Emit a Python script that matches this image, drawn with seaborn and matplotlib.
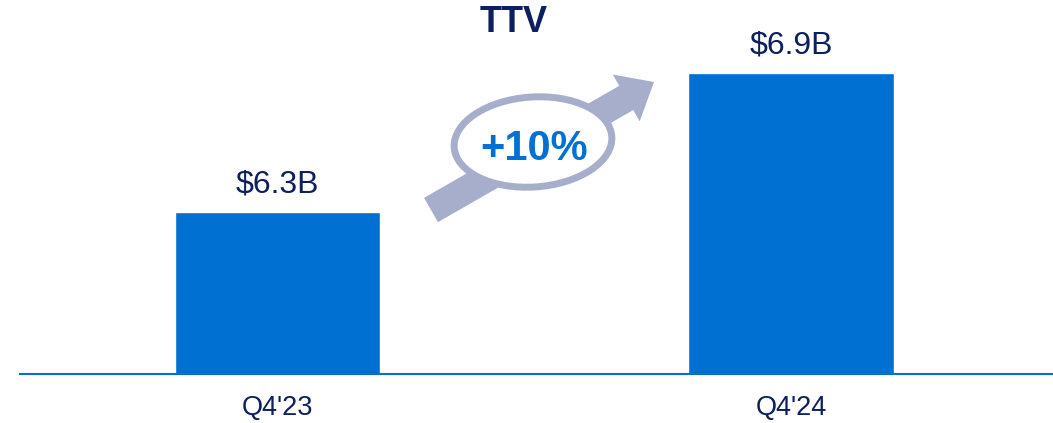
import numpy as np
import pandas as pd
import matplotlib
matplotlib.use("Agg")
import matplotlib.pyplot as plt
from matplotlib import patches, transforms
import seaborn as sns

# Data
quarters = ["Q4'23", "Q4'24"]
ttv_billions = [6.3, 6.9]
growth_label = "+10%"
chart_title = "TTV"

BAR_BLUE = "#0070d2"
NAVY = "#0c1f5e"
ARROW_GREY = "#a7aecb"

sns.set_style("white")
plt.rcParams["font.family"] = ["Liberation Sans", "DejaVu Sans"]

W, H = 1053, 423
fig = plt.figure(figsize=(W / 100, H / 100), dpi=100)
ax = fig.add_axes([20 / W, (H - 374) / H, (W - 20) / W, (374 - 20) / H])

df = pd.DataFrame({"quarter": quarters, "ttv": ttv_billions})
sns.barplot(data=df, x="quarter", y="ttv", color=BAR_BLUE, saturation=1,
            width=0.4, ax=ax)

ax.set_ylim(5.6, 7.128)
ax.set_xlim(-0.501, 1.51)
ax.set_xlabel("")
ax.set_ylabel("")
ax.set_yticks([])
for s in ["top", "left", "right"]:
    ax.spines[s].set_visible(False)
ax.spines["bottom"].set_color(BAR_BLUE)
ax.spines["bottom"].set_linewidth(1.5)
ax.tick_params(axis="x", length=0, pad=15, labelsize=19.5, labelcolor=NAVY)

# Value labels above bars
for bar, v in zip(ax.patches, ttv_billions):
    ax.annotate(f"${v:.1f}B", (bar.get_x() + bar.get_width() / 2, v),
                xytext=(0, 9), textcoords="offset points",
                ha="center", va="bottom", fontsize=23, color=NAVY,
                annotation_clip=False)

fig.text(514 / W, 1 - 22 / H, chart_title, ha="center", va="center",
         fontsize=26, fontweight="bold", color=NAVY)

# Pixel-space transform (origin top-left) for the growth badge
px = transforms.Affine2D().scale(1 / W, -1 / H).translate(0, 1) + fig.transFigure

tail = np.array([431.0, 210.0])
tip = np.array([654.0, 82.0])
u = (tip - tail) / np.linalg.norm(tip - tail)
n = np.array([-u[1], u[0]])
half_w, head_len, head_hw = 14, 32, 27
base = tip - u * head_len
arrow_pts = [tail + n * half_w, base + n * half_w, base + n * head_hw, tip,
             base - n * head_hw, base - n * half_w, tail - n * half_w]
fig.add_artist(patches.Polygon(arrow_pts, closed=True, transform=px,
                               facecolor=ARROW_GREY, edgecolor="none", zorder=3))

fig.add_artist(patches.Ellipse((533, 142), 158, 90, angle=-4, transform=px,
                               facecolor="white", edgecolor=ARROW_GREY,
                               linewidth=5, zorder=4))
fig.text(534 / W, 1 - 149 / H, growth_label, ha="center", va="center",
         fontsize=30, fontweight="bold", color=BAR_BLUE, zorder=5)

fig.savefig("out.png", dpi=100)
